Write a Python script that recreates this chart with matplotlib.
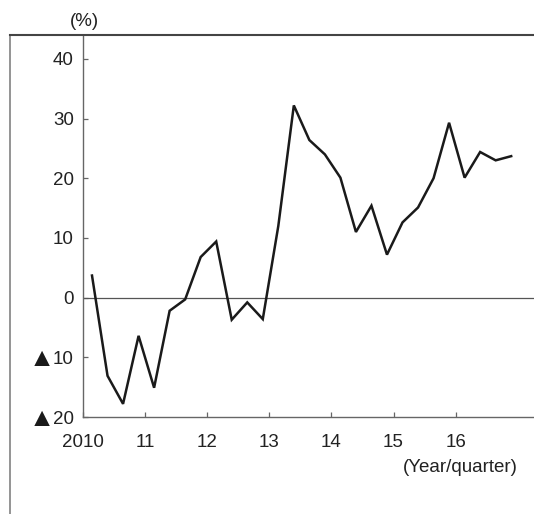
import matplotlib
matplotlib.use("Agg")
import matplotlib.pyplot as plt
from matplotlib.lines import Line2D

plt.rcParams['font.family'] = ['Liberation Sans', 'DejaVu Sans']

# quarterly values 2010Q1 .. 2016Q4 (%)
values = [3.7, -13.1, -17.8, -6.4, -15.1, -2.2, -0.3, 6.8,
          9.4, -3.7, -0.8, -3.6, 12.0, 32.2, 26.4, 24.0,
          20.1, 11.0, 15.4, 7.2, 12.6, 15.1, 20.0, 29.3,
          20.1, 24.4, 23.0, 23.7]
year_ticks = [0, 1, 2, 3, 4, 5, 6]
year_labels = ["2010", "11", "12", "13", "14", "15", "16"]
y_ticks = [-20, -10, 0, 10, 20, 30, 40]
y_labels = ["20", "10", "0", "10", "20", "30", "40"]
neg_marks = [-20, -10]

W, H = 534, 514
fig = plt.figure(figsize=(W / 100, H / 100), dpi=100)
ax = fig.add_axes([83 / W, (H - 417) / H, 1 - 83 / W, (417 - 35) / H])

x = [i / 4 + 0.145 for i in range(len(values))]
ax.plot(x, values, color='#1a1a1a', lw=1.8, solid_joinstyle='miter', zorder=3)
ax.axhline(0, color='#555555', lw=0.9, zorder=2)

ax.set_xlim(0, (W - 83) / 62.1)
ax.set_ylim(-20, 44.0)
ax.set_xticks(year_ticks)
ax.set_xticklabels(year_labels)
ax.set_yticks(y_ticks)
ax.set_yticklabels(y_labels)

for side in ['top', 'right']:
    ax.spines[side].set_visible(False)
for side in ['left', 'bottom']:
    ax.spines[side].set_color('#666666')
    ax.spines[side].set_linewidth(1.0)

ax.tick_params(axis='both', direction='in', length=3.6, width=0.9,
               color='#666666', labelsize=13.5, labelcolor='#222222')
ax.tick_params(axis='y', pad=6.5)
ax.tick_params(axis='x', pad=12)

# black triangles marking negative values (Japanese convention)
for v in neg_marks:
    ax.annotate("▲", xy=(0, v), xycoords=('axes fraction', 'data'),
                xytext=(-28.5, 1), textcoords='offset pixels',
                ha='right', va='center_baseline', fontsize=19,
                color='#1a1a1a', annotation_clip=False)

# outer frame lines
fig.add_artist(Line2D([10 / W, 10 / W], [0, (H - 35) / H],
                      transform=fig.transFigure, color='#777777', lw=1.1))
fig.add_artist(Line2D([10 / W, 1], [(H - 35) / H, (H - 35) / H],
                      transform=fig.transFigure, color='#444444', lw=1.5))

fig.text(84 / W, 1 - 21 / H, "(%)", ha='center', va='center',
         fontsize=13.5, color='#222222')
fig.text(460 / W, 1 - 467 / H, "(Year/quarter)", ha='center', va='center',
         fontsize=13.5, color='#222222')

fig.savefig("out.png", dpi=100)
